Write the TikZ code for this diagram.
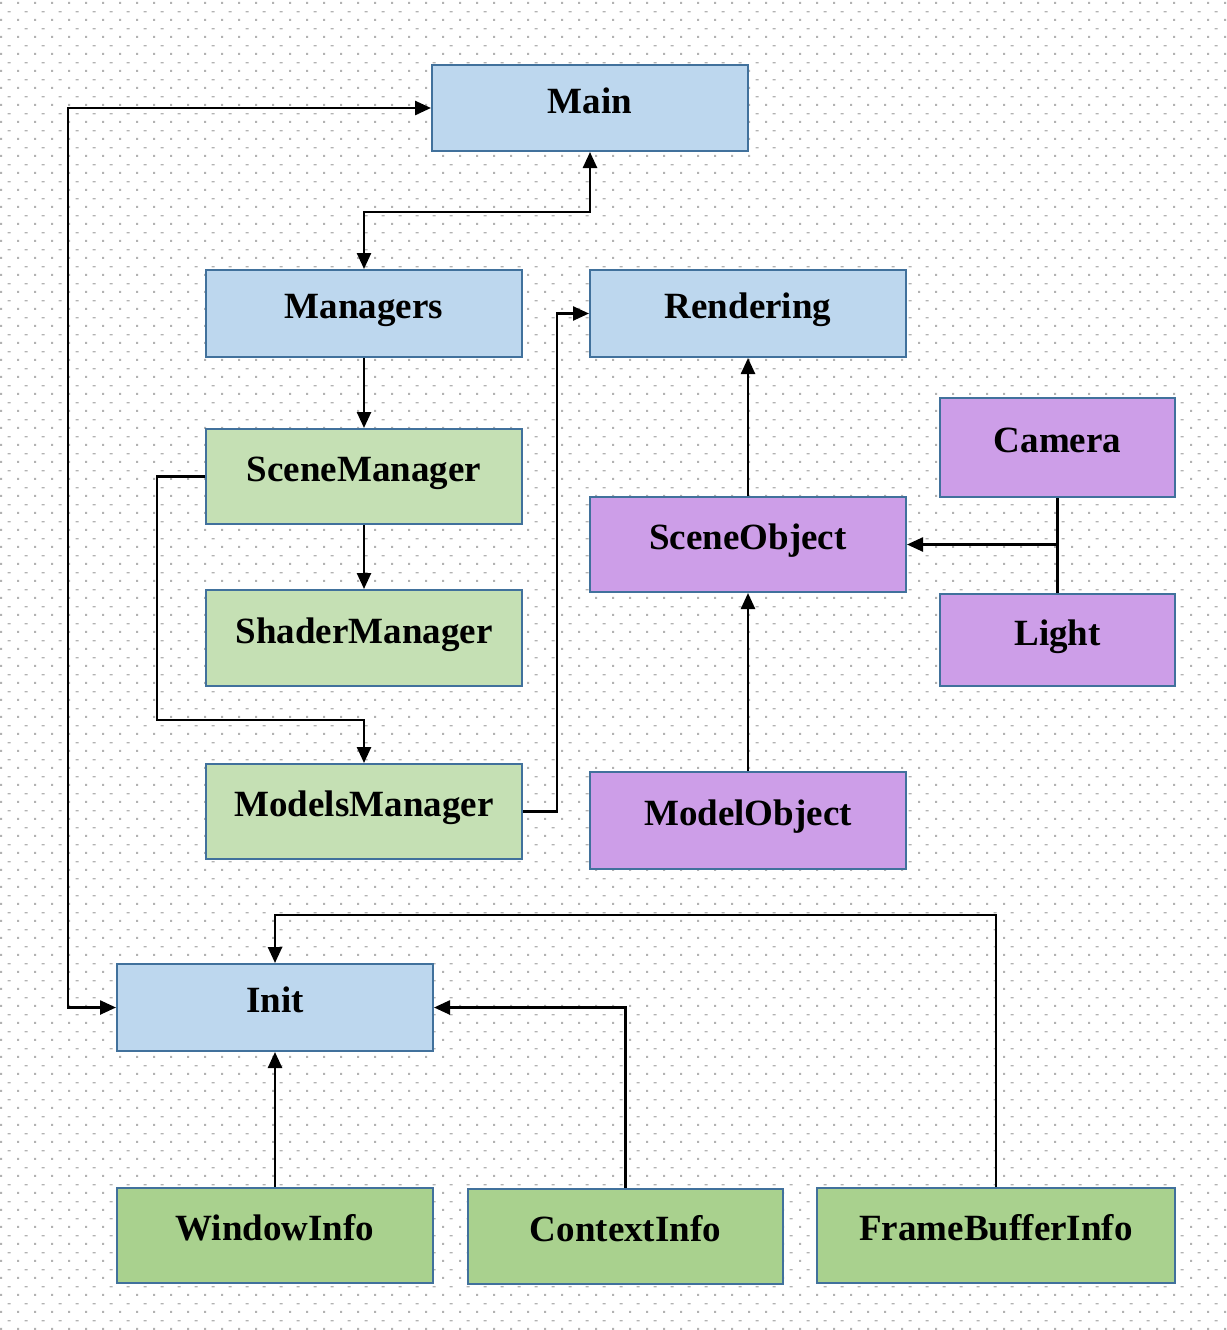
\documentclass[tikz,border=0pt]{standalone}
\usepackage{fontspec}
\setmainfont{Liberation Serif}
\usetikzlibrary{arrows.meta,patterns}

% Speckled paper background: a dot and a short dash per tile, staggered
\pgfdeclarepatternformonly{paperspeck}{\pgfpoint{-1pt}{-1pt}}{\pgfpoint{18pt}{18pt}}{\pgfpoint{17pt}{17pt}}{%
  \pgfpathrectangle{\pgfpoint{0pt}{0pt}}{\pgfpoint{2pt}{2pt}}%
  \pgfpathrectangle{\pgfpoint{7.5pt}{8.5pt}}{\pgfpoint{3pt}{1.4pt}}%
  \pgfusepath{fill}}

\definecolor{boxblue}{RGB}{189,215,238}
\definecolor{boxgreen}{RGB}{197,224,180}
\definecolor{boxgreendark}{RGB}{169,209,142}
\definecolor{boxpurple}{RGB}{205,158,232}
\definecolor{boxedge}{RGB}{65,113,156}

\tikzset{
  classbox/.style={rectangle, draw=boxedge, line width=2pt, inner sep=0pt,
    text height=26pt, text depth=16pt,
    font=\fontsize{37}{40}\selectfont\bfseries},
  bluebox/.style={classbox, fill=boxblue},
  greenbox/.style={classbox, fill=boxgreen},
  greendkbox/.style={classbox, fill=boxgreendark},
  purplebox/.style={classbox, fill=boxpurple},
  tip/.tip={Triangle[length=16pt,width=14pt]},
  conn/.style={draw=black, line width=2.5pt, line join=miter, -tip},
  bothconn/.style={conn, tip-tip},
  link/.style={draw=black, line width=2.5pt},
}

\begin{document}
\begin{tikzpicture}[x=1pt,y=-1pt]
  % page and background speckle
  \fill[white] (0,0) rectangle (1226,1330);
  \fill[pattern=paperspeck, pattern color=black!30] (0,0) rectangle (1226,1330);
  \useasboundingbox (0,0) rectangle (1226,1330);

  % top level
  \node[bluebox, minimum width=316pt, minimum height=86pt] (main) at (590,108) {Main};
  \node[bluebox, minimum width=316pt, minimum height=87pt] (managers) at (364,313.5) {Managers};
  \node[bluebox, minimum width=316pt, minimum height=87pt] (rendering) at (748,313.5) {Rendering};

  % managers column
  \node[greenbox, minimum width=316pt, minimum height=95pt] (scenemgr) at (364,476.5) {SceneManager};
  \node[greenbox, minimum width=316pt, minimum height=96pt] (shadermgr) at (364,638) {ShaderManager};
  \node[greenbox, minimum width=316pt, minimum height=95pt] (modelsmgr) at (364,811.5) {ModelsManager};

  % rendering objects
  \node[purplebox, minimum width=235pt, minimum height=99pt] (camera) at (1057.5,447.5) {Camera};
  \node[purplebox, minimum width=316pt, minimum height=95pt] (sceneobj) at (748,544.5) {SceneObject};
  \node[purplebox, minimum width=235pt, minimum height=92pt] (light) at (1057.5,640) {Light};
  \node[purplebox, minimum width=316pt, minimum height=97pt] (modelobj) at (748,820.5) {ModelObject};

  % initialisation
  \node[bluebox, minimum width=316pt, minimum height=87pt] (init) at (275,1007.5) {Init};
  \node[greendkbox, minimum width=316pt, minimum height=95pt] (windowinfo) at (275,1235.5) {WindowInfo};
  \node[greendkbox, minimum width=315pt, minimum height=95pt] (contextinfo) at (625.5,1236.5) {ContextInfo};
  \node[greendkbox, minimum width=358pt, minimum height=95pt] (fbinfo) at (996,1235.5) {FrameBufferInfo};

  % connectors
  \draw[bothconn] (main.south) -- ++(0,60) -| (managers.north);
  \draw[bothconn] (main.west) -- ++(-363,0) |- (init.west);
  \draw[conn] (managers.south) -- (scenemgr.north);
  \draw[conn] (scenemgr.south) -- (shadermgr.north);
  \draw[conn] (scenemgr.west) -- ++(-48,0) -- ++(0,243.5) -| (modelsmgr.north);
  \draw[conn] (modelsmgr.east) -- ++(34,0) |- (rendering.west);
  \draw[conn] (sceneobj.north) -- (rendering.south);
  \draw[conn] (modelobj.north) -- (sceneobj.south);
  \draw[link] (camera.south) -- (light.north);
  \draw[conn] (camera.south |- sceneobj.east) -- (sceneobj.east);
  \draw[conn] (windowinfo.north) -- (init.south);
  \draw[conn] (contextinfo.north) |- (init.east);
  \draw[conn] (fbinfo.north) -- ++(0,-272) -| (init.north);
\end{tikzpicture}
\end{document}
